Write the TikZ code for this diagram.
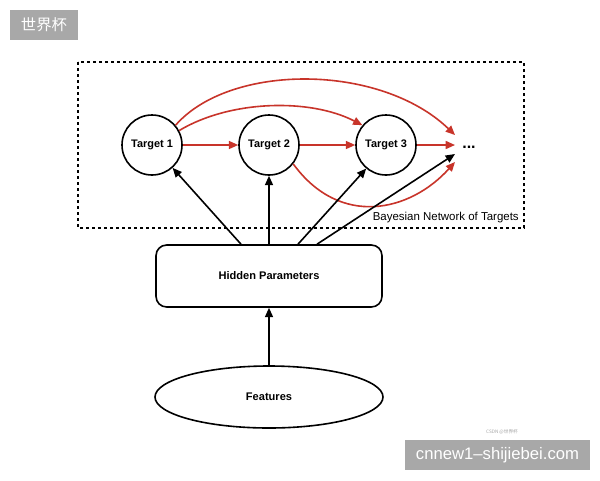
\documentclass[tikz,border=0pt]{standalone}
\usepackage{fontspec}
\setmainfont{Liberation Sans}
\newfontfamily\cjk{Noto Sans CJK SC}
\usetikzlibrary{arrows.meta,shapes.geometric}
\definecolor{redarr}{RGB}{200,52,42}
\definecolor{wmgray}{RGB}{168,168,168}
\tikzset{
  target/.style={circle,draw,line width=1.2pt,minimum size=45pt,inner sep=0pt,font=\fontsize{8.2}{9}\selectfont\bfseries},
  redline/.style={draw=redarr,line width=1.2pt,-{Triangle[length=7pt,width=6pt]}},
  blackline/.style={draw=black,line width=1.2pt,-{Triangle[length=7pt,width=6pt]}},
  wmbox/.style={fill=wmgray,draw=none,text=white,inner sep=0pt}
}
\begin{document}
\begin{tikzpicture}[x=0.75pt,y=-0.75pt]
\useasboundingbox (0,0) rectangle (600,480);
\fill[white] (0,0) rectangle (600,480);
% watermark top
\fill[wmgray] (10,10) rectangle (78,40);
\node[text=white,font=\cjk\fontsize{11.5}{12}\selectfont] (wm1) at (44,25) {世界杯};
% dashed frame
\draw[line width=1.2pt,dash pattern=on 2.5pt off 2pt] (78,62) rectangle (524,228);
\node[anchor=south east,inner sep=0pt,font=\fontsize{8.6}{10}\selectfont] (bnlabel) at (519,223) {Bayesian Network of Targets};
% targets
\node[target] (t1) at (152,145) {Target 1};
\node[target] (t2) at (269,145) {Target 2};
\node[target] (t3) at (386,145) {Target 3};
\node[font=\bfseries\fontsize{12}{12}\selectfont,inner sep=0pt] (dots) at (469,147) {...};
\coordinate (e1) at (455,135);
\coordinate (e2) at (455,145);
\coordinate (e3) at (455,154);
\coordinate (e4) at (455,162);
% hidden parameters
\node[draw,line width=1.2pt,rounded corners=8pt,minimum width=169.5pt,minimum height=46.5pt,font=\fontsize{8.3}{9}\selectfont\bfseries] (hp) at (269,276) {Hidden Parameters};
% features
\node[ellipse,draw,line width=1.2pt,minimum width=171pt,minimum height=46.5pt,inner sep=0pt,font=\fontsize{8.3}{9}\selectfont\bfseries] (feat) at (269,397) {Features};
% red arrows
\draw[redline] (t1) -- (t2);
\draw[redline] (t2) -- (t3);
\draw[redline] (t3) -- (e2);
\draw[redline] (t1.40) .. controls (230,63) and (380,63) .. (e1);
\draw[redline] (t1.28) .. controls (230,100) and (310,98) .. (t3.140);
\draw[redline] (t2.-38) .. controls (340,228) and (410,212) .. (e4);
% black arrows
\draw[blackline] (hp.north -| 241,0) -- (t1.-48);
\draw[blackline] (hp.north) -- (t2.south);
\draw[blackline] (hp.north -| 298,0) -- (t3.-130);
\draw[blackline] (hp.north -| 317,0) -- (e3);
\draw[blackline] (feat.north) -- (hp.south);
% watermark bottom
\node[font=\cjk\fontsize{3.5}{4}\selectfont,text=black!35] (csdn) at (502,432) {CSDN @世界杯};
\fill[wmgray] (405,440) rectangle (590,470);
\node[text=white,font=\fontsize{12.5}{14}\selectfont] (wm2) at (497.5,455) {cnnew1–shijiebei.com};
\end{tikzpicture}
\end{document}
